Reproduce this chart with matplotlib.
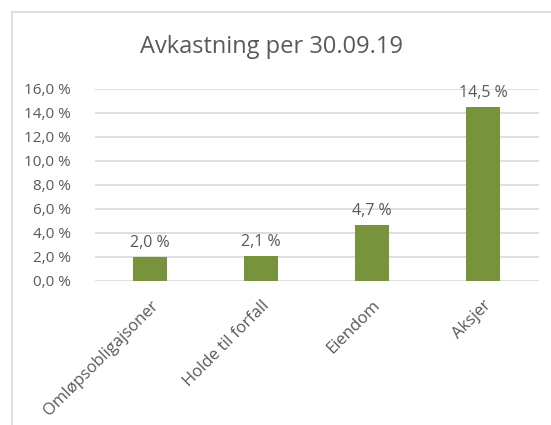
import matplotlib
matplotlib.use('Agg')
import matplotlib.pyplot as plt
import matplotlib.patches as mpatches
from matplotlib.ticker import FuncFormatter, MultipleLocator

plt.rcParams['font.family'] = ['Open Sans', 'DejaVu Sans']

categories = ['Omløpsobligajsoner', 'Holde til forfall', 'Eiendom', 'Aksjer']
returns = [2.0, 2.1, 4.7, 14.5]

TEXT = '#595959'
GRID = '#D9D9D9'
BAR = '#77933C'


def pct(v, pos=None):
    return f'{v:.1f} %'.replace('.', ',')


fig = plt.figure(figsize=(5.51, 4.25), dpi=100)
ax = fig.add_axes([94.5 / 551, 144 / 425, 444 / 551, 192 / 425])

# chart border (Excel chart area)
fig.patches.append(mpatches.Rectangle((12 / 551, -0.1), 1.2, (413 / 425) + 0.1,
                                      transform=fig.transFigure, fill=False,
                                      edgecolor=GRID, linewidth=1.2))

x = range(len(categories))
bars = ax.bar(x, returns, width=0.31, color=BAR, zorder=3)

for bar, v in zip(bars, returns):
    ax.annotate(pct(v), (bar.get_x() + bar.get_width() / 2, v),
                xytext=(0, 4), textcoords='offset points',
                ha='center', va='bottom', fontsize=11.5, color=TEXT)

ax.set_xlim(-0.5, 3.5)
ax.set_ylim(0, 16)
ax.yaxis.set_major_locator(MultipleLocator(2))
ax.yaxis.set_major_formatter(FuncFormatter(pct))
ax.grid(axis='y', color=GRID, linewidth=1.2, zorder=0)
for s in ax.spines.values():
    s.set_visible(False)
ax.tick_params(length=0, colors=TEXT, labelsize=11)
ax.tick_params(axis='y', pad=17)
ax.set_xticks(list(x))
ax.set_xticklabels(categories, rotation=45, ha='right', rotation_mode='anchor',
                   fontsize=12, color=TEXT)
ax.tick_params(axis='x', pad=12)

fig.text(272 / 551, 1 - 47 / 425, 'Avkastning per 30.09.19', ha='center',
         va='center', fontsize=17, color=TEXT)

fig.savefig('out.png', dpi=100, facecolor='white')
